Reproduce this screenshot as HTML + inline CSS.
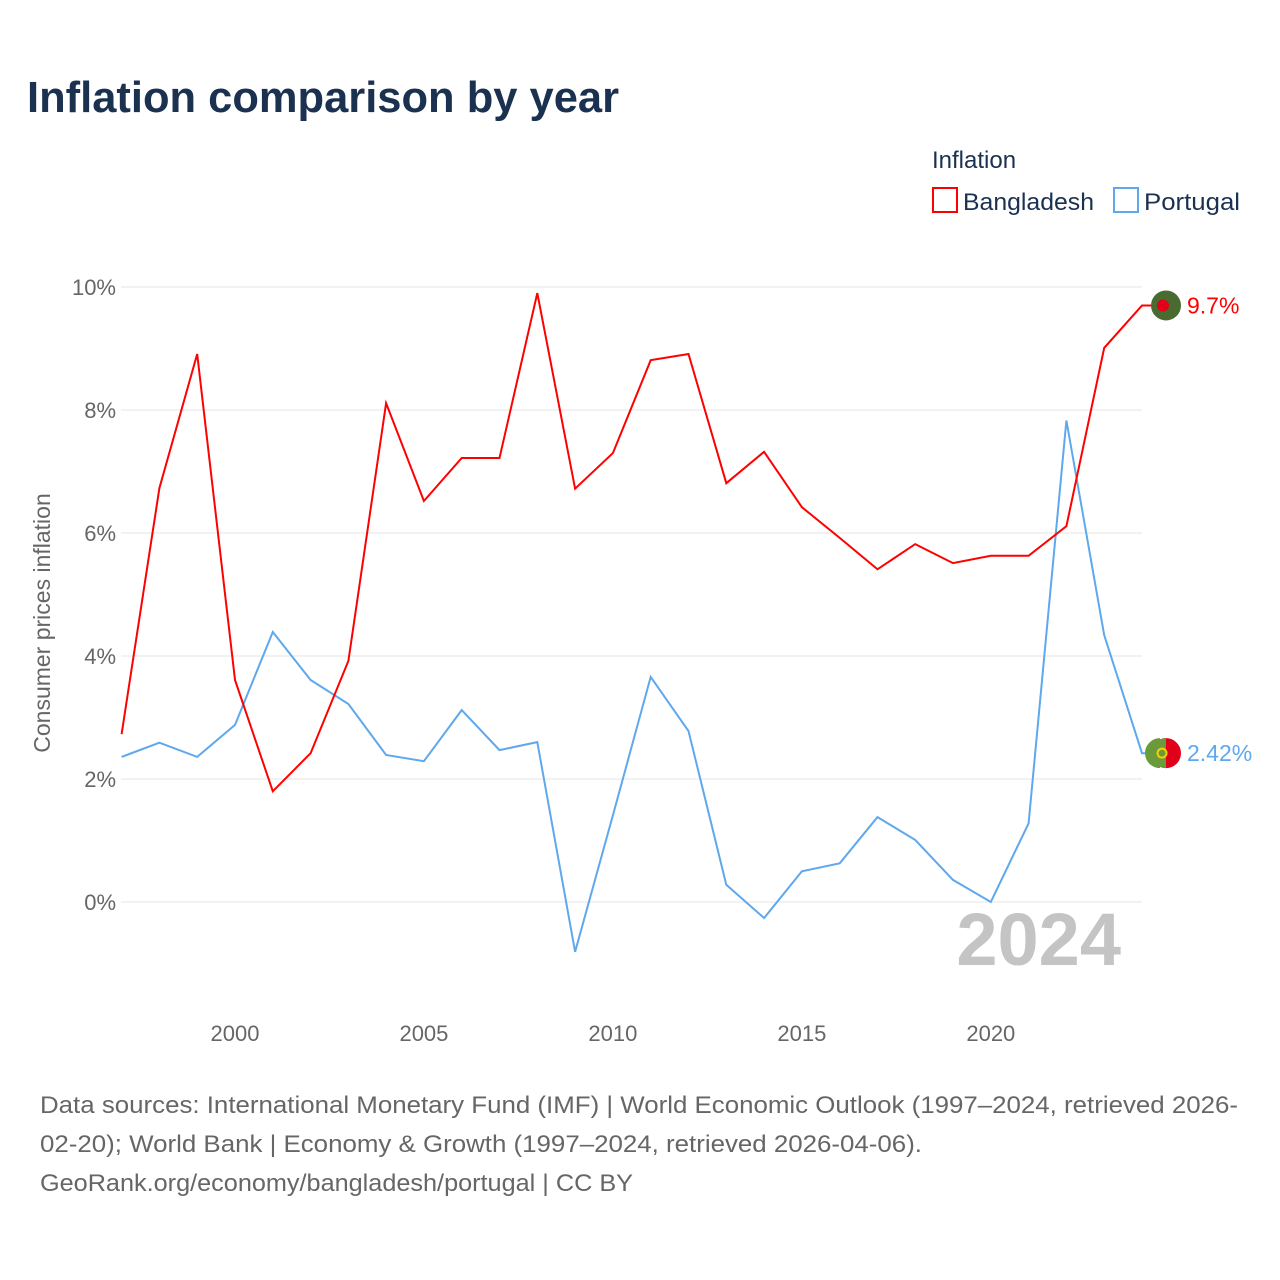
<!DOCTYPE html>
<html><head><meta charset="utf-8"><style>
html,body{margin:0;padding:0;background:#fff;}
svg{display:block;font-family:"Liberation Sans",sans-serif;}
</style></head><body>
<svg id="chart" width="1280" height="1280" viewBox="0 0 1280 1280">
<rect width="1280" height="1280" fill="#fff"/>
<text x="27" y="112" font-size="44" font-weight="bold" fill="#1a3150" textLength="592" lengthAdjust="spacingAndGlyphs">Inflation comparison by year</text>
<g>
<text x="932" y="168" font-size="24" fill="#1a3150">Inflation</text>
<g><rect x="933" y="188" width="24" height="24" fill="none" stroke="#ff0000" stroke-width="2"/><text x="963" y="210" font-size="24" fill="#1a3150" textLength="131" lengthAdjust="spacingAndGlyphs">Bangladesh</text></g>
<g><rect x="1114" y="188" width="24" height="24" fill="none" stroke="#5ea8ed" stroke-width="2"/><text x="1144" y="210" font-size="24" fill="#1a3150" textLength="96" lengthAdjust="spacingAndGlyphs">Portugal</text></g>
</g>
<g id="grid"></g>
<g id="yticks"></g>
<g id="xticks"></g>
<text transform="translate(50,623) rotate(-90)" text-anchor="middle" font-size="23" fill="#666">Consumer prices inflation</text>
<text x="1121" y="965" text-anchor="end" font-size="74" font-weight="bold" fill="#c4c4c4">2024</text>
<g id="series"></g>
<g font-size="24" fill="#666">
<text x="40" y="1113" textLength="1198" lengthAdjust="spacingAndGlyphs">Data sources: International Monetary Fund (IMF) | World Economic Outlook (1997–2024, retrieved 2026-</text>
<text x="40" y="1152" textLength="882" lengthAdjust="spacingAndGlyphs">02-20); World Bank | Economy &amp; Growth (1997–2024, retrieved 2026-04-06).</text>
<text x="40" y="1191" textLength="593" lengthAdjust="spacingAndGlyphs">GeoRank.org/economy/bangladesh/portugal | CC BY</text>
</g>
</svg>
<script>
const years = [1997,1998,1999,2000,2001,2002,2003,2004,2005,2006,2007,2008,2009,2010,2011,2012,2013,2014,2015,2016,2017,2018,2019,2020,2021,2022,2023,2024];
const bangladesh = [2.73,6.73,8.91,3.61,1.80,2.42,3.92,8.11,6.52,7.22,7.22,9.90,6.72,7.30,8.81,8.91,6.81,7.32,6.42,5.92,5.41,5.82,5.51,5.63,5.63,6.11,9.01,9.70];
const portugal = [2.36,2.59,2.36,2.88,4.39,3.61,3.22,2.39,2.29,3.12,2.47,2.60,-0.81,1.41,3.66,2.78,0.28,-0.26,0.50,0.63,1.38,1.01,0.36,0.00,1.28,7.83,4.34,2.42];
const yTicks = [0,2,4,6,8,10];
const yTickLabels = ["0%","2%","4%","6%","8%","10%"];
const xTicks = [2000,2005,2010,2015,2020];
const endLabels = ["9.7%","2.42%"];

const NS="http://www.w3.org/2000/svg";
const x = v => 121.6 + (v-1997)*(1142-121.6)/27;
const y = v => 902 - v*61.5;
function mk(tag, attrs, parent){const e=document.createElementNS(NS,tag);for(const k in attrs)e.setAttribute(k,attrs[k]);parent.appendChild(e);return e;}
const grid=document.getElementById('grid'), yt=document.getElementById('yticks'), xt=document.getElementById('xticks'), ser=document.getElementById('series');
yTicks.forEach((t,i)=>{
  const l=mk('line',{x1:121,x2:1142,y1:y(t),y2:y(t),stroke:'#e6e6e6','stroke-width':1},grid);
  
  
  const tx=mk('text',{x:116,y:y(t)+8,'text-anchor':'end','font-size':22,fill:'#666'},yt);
  tx.textContent=yTickLabels[i];
  
  
});
xTicks.forEach(t=>{
  const tx=mk('text',{x:x(t),y:1041,'text-anchor':'middle','font-size':22,fill:'#666'},xt);
  tx.textContent=t;
  
  
});
function drawSeries(vals,color,name,label,flag){
  const pts=vals.map((v,i)=>x(years[i]).toFixed(1)+','+y(v).toFixed(1)).join(' ');
  const last=vals[vals.length-1];
  const ly=y(last);
  const p=mk('polyline',{points:pts+' '+(x(2024)+10)+','+ly.toFixed(1),fill:'none',stroke:color,'stroke-width':2,'stroke-linejoin':'miter'},ser);
  
  
  const g=mk('g',{},ser);
  
  
  if(flag==='bd'){
    mk('circle',{cx:1166,cy:ly,r:15,fill:'#4a6b30'},g);
    mk('circle',{cx:1163,cy:ly,r:6,fill:'#e1001a'},g);
  } else {
    mk('circle',{cx:1166,cy:ly,r:15,fill:'#e1001a'},g);
    mk('path',{d:`M1166 ${ly-15} A15 15 0 0 0 1166 ${ly+15} Z`,fill:'#6a9a3a'},g);
    mk('path',{d:`M1160 ${ly-15} L1160 ${ly+15} A15 15 0 0 1 1160 ${ly-15}`,fill:'#6a9a3a'},g);
    mk('circle',{cx:1162,cy:ly,r:4.5,fill:'none',stroke:'#f5d000','stroke-width':2},g);
  }
  const t=mk('text',{x:1187,y:ly+8,'font-size':23,fill:color},ser);
  t.textContent=label;
  
  
}
drawSeries(portugal,'#5ea8ed','portugal',endLabels[1],'pt');
drawSeries(bangladesh,'#ff0000','bangladesh',endLabels[0],'bd');
</script>
</body></html>
